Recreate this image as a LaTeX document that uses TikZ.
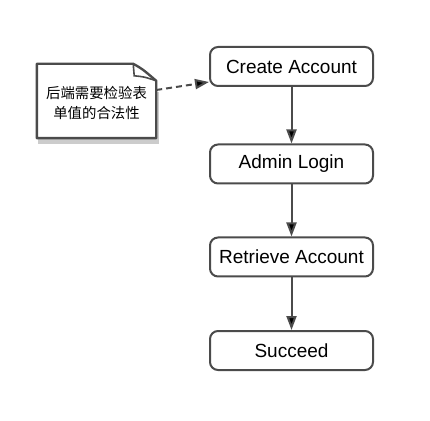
\documentclass[tikz,border=0pt]{standalone}
\usepackage{fontspec}
\setmainfont{Liberation Sans}
\newfontfamily\cjk{Noto Sans CJK SC}
\usetikzlibrary{arrows.meta}
\definecolor{edgegray}{RGB}{75,75,75}
\tikzset{stepbox/.style={draw=edgegray, line width=2pt, rounded corners=8pt,
    minimum width=163pt, minimum height=39pt, inner sep=0pt,
    font=\fontsize{19}{23}\selectfont},
  flow/.style={draw=edgegray, line width=2pt, -{Triangle[length=14pt,width=10pt,fill=black]}}}

\begin{document}
\begin{tikzpicture}[x=1pt,y=1pt]
\useasboundingbox (0,0) rectangle (430,420);

\node[stepbox] (create) at (291.5,353.5) {Create Account};
\node[stepbox] (login) at (291.5,256) {Admin Login};
\node[stepbox] (retrieve) at (291.5,163) {Retrieve Account};
\node[stepbox] (succeed) at (291.5,69.5) {Succeed};

%\draw (37,282) rectangle (156,356);
\node[minimum width=119pt, minimum height=74pt, inner sep=0pt] (note) at (96.5,319) {};
\fill[black!20] ([shift={(1,-6)}]note.south west) rectangle ([shift={(3,-28)}]note.north east);
\draw[edgegray, fill=white, line width=2.4pt, line join=round]
  (note.south west) -- (note.north west) -- ([xshift=-23]note.north east)
  .. controls ([xshift=-14,yshift=-5]note.north east) .. ([yshift=-17]note.north east)
  -- (note.south east) -- cycle;
\draw[edgegray, line width=1.6pt]
  ([xshift=-23]note.north east) -- ([xshift=-22,yshift=-12]note.north east)
  .. controls ([xshift=-12,yshift=-13]note.north east) .. ([yshift=-17]note.north east);
\node[align=center, font=\cjk\fontsize{14.4}{20}\selectfont] at ([yshift=-2]note.center) {后端需要检验表\\单值的合法性};

\draw[flow, dash pattern=on 6pt off 4pt] ([yshift=11]note.east) -- ([yshift=-15.5]create.west);
\draw[flow] (create) -- (login);
\draw[flow] (login) -- (retrieve);
\draw[flow] (retrieve) -- (succeed);

\end{tikzpicture}
\end{document}
